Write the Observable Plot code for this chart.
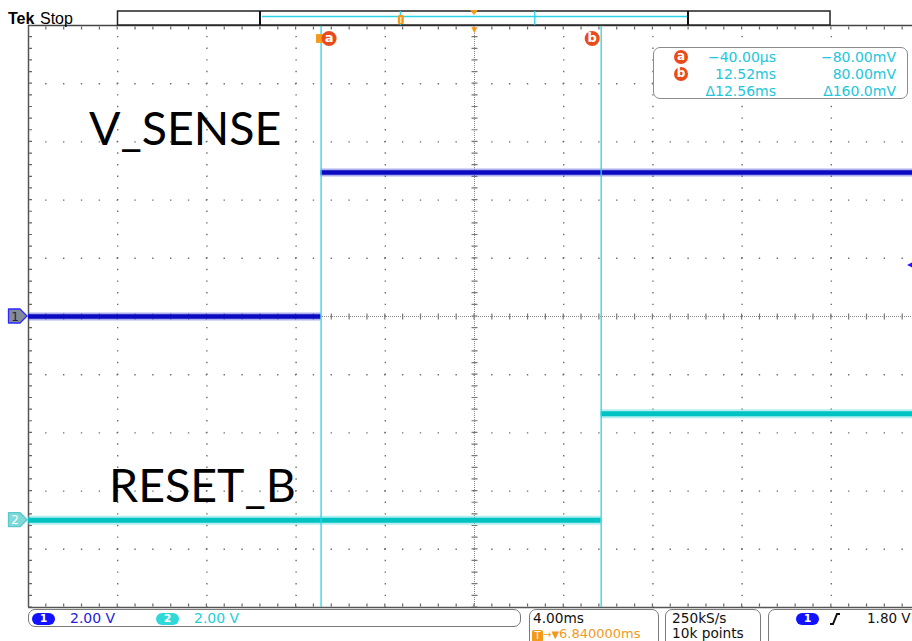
<!DOCTYPE html>
<html>
<head>
<meta charset="utf-8">
<script src="https://cdn.jsdelivr.net/npm/d3@7"></script>
<script src="https://cdn.jsdelivr.net/npm/@observablehq/plot@0.6"></script>
<style>
html, body { margin:0; padding:0; background:#fff; overflow:hidden; }
#wrap { position:relative; width:912px; height:641px; font-family:"DejaVu Sans", sans-serif; }
#header { position:relative; height:24px; z-index:2; }
#header svg { overflow:visible; display:block; }
#chart svg { display:block; }
#footer { position:relative; height:32px; overflow:hidden; }
.box { position:absolute; top:0; box-sizing:border-box; border:1.5px solid #7a7a7a; border-radius:7px; background:#fff; }
.t { position:absolute; white-space:nowrap; font-size:14px; line-height:15px; }
.pill { position:absolute; top:4px; width:23px; height:12px; border-radius:6px; color:#fff; font-size:11px; font-weight:bold; line-height:12px; text-align:center; }
#readout { position:absolute; left:653px; top:47px; width:255px; height:52px; box-sizing:border-box; border:1.5px solid #8c8c8c; border-radius:7px; background:#fff; color:#22c6da; font-size:14px; z-index:3; }
#readout .t { font-size:14px; line-height:16px; }
.cur { position:absolute; width:14px; height:14px; border-radius:7px; background:#e94b1c; color:#fff; font-weight:bold; font-size:12px; line-height:13px; text-align:center; }
</style>
</head>
<body>
<div id="wrap">
  <div id="header"></div>
  <div id="chart"></div>
  <div id="footer"></div>
  <div id="readout"></div>
</div>
<script>
// ---------------- data ----------------
const channelNames = ["V_SENSE", "RESET_B"];
const channelVoltsPerDiv = [2.0, 2.0];
const channelOffsetDiv = [0, -3.5];

// V_SENSE (channel 1) level segments, time in ms, level in V
const vsenseStartMs = [-13.16, -0.04];
const vsenseEndMs   = [-0.04, 26.48];
const vsenseVolts   = [0.0, 4.95];

// RESET_B (channel 2) level segments
const resetStartMs = [-13.16, 12.52];
const resetEndMs   = [12.52, 26.48];
const resetVolts   = [0.0, 3.66];

// cursors
const cursorNames = ["a", "b"];
const cursorTimesMs = [-0.04, 12.52];
const cursorVoltsMv = [-80.0, 80.0];

// acquisition settings
const timebaseMsPerDiv = 4.0;
const triggerDelayMs = 6.84;
const triggerLevelV = 1.80;
const sampleRateLabel = "250kS/s";
const recordLengthLabel = "10k points";

// annotation label anchors (ms, divisions)
const labelTimesMs = [-10.45, -9.55];
const labelDivs = [3.2, -2.93];

// ---------------- chart ----------------
const W = 912, H = 585, mL = 28, mR = 0, mT = 1, mB = 2;
const xMin = triggerDelayMs - 5 * timebaseMsPerDiv;
const xMax = 26.48; // right edge of the screen is cropped
const pxDivX = (W - mL - mR) / (xMax - xMin) * timebaseMsPerDiv;
const pxDivY = (H - mT - mB) / 10;
const minX = pxDivX / 5, minY = pxDivY / 5;

const toDiv = (ch, v) => channelOffsetDiv[ch] + v / channelVoltsPerDiv[ch];
const segs = (ch, s, e, v) => s.map((d, i) => ({ch, x1: s[i], x2: e[i], y: toDiv(ch, v[i])}));
const ch1 = segs(0, vsenseStartMs, vsenseEndMs, vsenseVolts);
const ch2 = segs(1, resetStartMs, resetEndMs, resetVolts);

const gridT = d3.range(-4, 5).filter(k => k !== 0).map(k => triggerDelayMs + k * timebaseMsPerDiv);
const gridY = d3.range(-4, 5).filter(k => k !== 0);

const gridC = "#6e6e6e";
const CYAN_CUR = "#2bd3e6";
const ORANGE = "#f29a1c";
const BADGE = "#e94b1c";

const cursors = cursorNames.map((n, i) => ({n, t: cursorTimesMs[i]}));
const curA = cursors.filter(c => c.n === "a");
const curB = cursors.filter(c => c.n === "b");

const plot = Plot.plot({
  width: W, height: H, marginTop: mT, marginBottom: mB, marginLeft: mL, marginRight: mR,
  style: {background: "transparent", overflow: "visible"},
  x: {domain: [xMin, xMax], axis: null},
  y: {domain: [-5, 5], axis: null},
  marks: [
    // dotted graticule
    Plot.ruleX(gridT, {stroke: gridC, strokeWidth: 1.4, strokeDasharray: `1.4 ${minY - 1.4}`, strokeDashoffset: 0.7}),
    Plot.ruleY(gridY, {stroke: gridC, strokeWidth: 1.4, strokeDasharray: `1.4 ${minX - 1.4}`, strokeDashoffset: 0.7}),
    // center cross
    Plot.ruleX([triggerDelayMs], {stroke: "#8a8a8a", strokeWidth: 1, strokeDasharray: "1 1"}),
    Plot.ruleY([0], {stroke: "#8a8a8a", strokeWidth: 1, strokeDasharray: "1 1"}),
    Plot.ruleX([triggerDelayMs], {stroke: "#777", strokeWidth: 6, strokeDasharray: `1.2 ${minY - 1.2}`, strokeDashoffset: 0.6}),
    Plot.ruleY([0], {stroke: "#777", strokeWidth: 6, strokeDasharray: `1.2 ${minX - 1.2}`, strokeDashoffset: 0.6}),
    // edges
    Plot.ruleX([xMin], {stroke: "#555", strokeWidth: 1.5}),
    Plot.ruleY([5], {stroke: "#444", strokeWidth: 1.5}),
    Plot.ruleY([-5], {stroke: "#555", strokeWidth: 1.5}),
    Plot.ruleX([xMin], {stroke: "#666", strokeWidth: 3, dx: 2, strokeDasharray: `1.2 ${minY - 1.2}`, strokeDashoffset: 0.6}),
    Plot.ruleY([5], {stroke: "#666", strokeWidth: 3, dy: 2.5, strokeDasharray: `1.2 ${minX - 1.2}`, strokeDashoffset: 0.6}),
    Plot.ruleY([-5], {stroke: "#666", strokeWidth: 3, dy: -2.5, strokeDasharray: `1.2 ${minX - 1.2}`, strokeDashoffset: 0.6}),
    // traces
    Plot.ruleY(ch2, {y: "y", x1: "x1", x2: "x2", stroke: "#55dcdc", strokeWidth: 9, strokeOpacity: 0.45}),
    Plot.ruleY(ch2, {y: "y", x1: "x1", x2: "x2", stroke: "#00c2c2", strokeWidth: 5}),
    Plot.ruleY(ch1, {y: "y", x1: "x1", x2: "x2", stroke: "#4b4bd6", strokeWidth: 8, strokeOpacity: 0.45}),
    Plot.ruleY(ch1, {y: "y", x1: "x1", x2: "x2", stroke: "#0a0ac0", strokeWidth: 4.5}),
    // cursors
    Plot.ruleX(cursors, {x: "t", stroke: CYAN_CUR, strokeWidth: 1.3}),
    // trigger position markers
    Plot.text([triggerDelayMs], {x: d => d, frameAnchor: "top", text: () => "▼", fill: ORANGE, fontSize: 10, lineAnchor: "top", dy: 0}),
    Plot.dot([0], {x: d => d, frameAnchor: "top", dy: 13, dx: -1.5, symbol: "square", r: 5, fill: ORANGE}),
    // cursor badges
    Plot.dot(curA, {x: "t", frameAnchor: "top", dy: 13, dx: 8, r: 7.5, fill: BADGE}),
    Plot.dot(curB, {x: "t", frameAnchor: "top", dy: 13, dx: -9, r: 7.5, fill: BADGE}),
    Plot.text(curA, {x: "t", text: "n", frameAnchor: "top", lineAnchor: "middle", dy: 12, dx: 8, fill: "#fff", fontWeight: "bold", fontSize: 13, fontFamily: "DejaVu Sans"}),
    Plot.text(curB, {x: "t", text: "n", frameAnchor: "top", lineAnchor: "middle", dy: 12, dx: -9, fill: "#fff", fontWeight: "bold", fontSize: 13, fontFamily: "DejaVu Sans"}),
    // trigger level arrow
    Plot.text([triggerLevelV], {x: () => xMax, y: v => toDiv(0, v), text: () => "◀", textAnchor: "end", fill: "#1a1aff", fontSize: 8}),
    // signal labels
    Plot.text(channelNames, {x: (d, i) => labelTimesMs[i], y: (d, i) => labelDivs[i], text: d => d, textAnchor: "start", fontFamily: "Lato", fontSize: 46.5, fill: "#000"})
  ]
});
document.getElementById("chart").appendChild(plot);

// channel ground markers in the left margin
const ys = plot.scale("y");
const svg = d3.select(plot);
const markerFill = ["#858b96", "#7fd9d9"];
const markerStroke = ["#2a2aff", "#5cc9c9"];
const markerText = ["#202050", "#ffffff"];
channelOffsetDiv.forEach((off, i) => {
  const yy = ys.apply(off);
  const g = svg.append("g");
  g.append("path").attr("d", `M8.5,${yy - 7}H20L27,${yy}L20,${yy + 7}H8.5Z`)
    .attr("fill", markerFill[i]).attr("stroke", markerStroke[i]).attr("stroke-width", 1.3).attr("stroke-linejoin", "round");
  g.append("text").attr("x", 15).attr("y", yy + 4.5).attr("text-anchor", "middle")
    .attr("font-family", "DejaVu Sans").attr("font-size", 12).attr("fill", markerText[i]).text(String(i + 1));
});

// ---------------- header ----------------
const hdr = d3.select("#header").append("svg").attr("width", 912).attr("height", 24);
hdr.append("text").attr("x", 8).attr("y", 23.5).attr("font-family", "Liberation Sans").attr("font-weight", "bold").attr("font-size", 16).text("Tek");
hdr.append("text").attr("x", 40).attr("y", 23.5).attr("font-family", "Liberation Sans").attr("font-size", 16).text("Stop");
hdr.append("rect").attr("x", 117.5).attr("y", 11).attr("width", 712.5).attr("height", 14).attr("fill", "#fff").attr("stroke", "#222").attr("stroke-width", 1.5);
const recX = d3.scaleLinear([xMin, xMin + 10 * timebaseMsPerDiv], [260, 688]);
hdr.append("line").attr("x1", recX(xMin) + 2).attr("x2", recX(xMin + 10 * timebaseMsPerDiv)).attr("y1", 16.5).attr("y2", 16.5).attr("stroke", CYAN_CUR).attr("stroke-width", 1.5);
[recX(xMin), recX(xMin + 10 * timebaseMsPerDiv)].forEach(x => {
  hdr.append("line").attr("x1", x).attr("x2", x).attr("y1", 11).attr("y2", 25).attr("stroke", "#111").attr("stroke-width", 2);
});
cursorTimesMs.forEach(t => {
  hdr.append("line").attr("x1", recX(t)).attr("x2", recX(t)).attr("y1", 11).attr("y2", 25).attr("stroke", CYAN_CUR).attr("stroke-width", 1.3);
});
hdr.append("rect").attr("x", recX(0) - 3).attr("y", 15).attr("width", 6).attr("height", 9).attr("rx", 1.5).attr("fill", ORANGE);
hdr.append("line").attr("x1", recX(0)).attr("x2", recX(0)).attr("y1", 17).attr("y2", 23).attr("stroke", "#fff").attr("stroke-width", 1);
const cx = recX(triggerDelayMs);
hdr.append("polygon").attr("points", `${cx - 4},10 ${cx + 4},10 ${cx},15`).attr("fill", ORANGE);

// ---------------- cursor readout ----------------
const minus = s => s.replace("-", "\u2212");
const fmtT = t => Math.abs(t) < 1 ? minus((t * 1000).toFixed(2)) + "µs" : minus(t.toFixed(2)) + "ms";
const fmtV = v => minus(v.toFixed(2)) + "mV";
const dT = cursorTimesMs[1] - cursorTimesMs[0];
const dV = cursorVoltsMv[1] - cursorVoltsMv[0];
const rows = [
  {icon: cursorNames[0], t: fmtT(cursorTimesMs[0]), v: fmtV(cursorVoltsMv[0])},
  {icon: cursorNames[1], t: fmtT(cursorTimesMs[1]), v: fmtV(cursorVoltsMv[1])},
  {icon: null, t: "Δ" + dT.toFixed(2) + "ms", v: "Δ" + dV.toPrecision(4) + "mV"}
];
const ro = document.getElementById("readout");
rows.forEach((r, i) => {
  const top = 1 + i * 17;
  if (r.icon) ro.insertAdjacentHTML("beforeend", `<div class="cur" style="left:20px;top:${top + 0.5}px">${r.icon}</div>`);
  ro.insertAdjacentHTML("beforeend", `<div class="t" style="right:131px;top:${top}px">${r.t}</div>`);
  ro.insertAdjacentHTML("beforeend", `<div class="t" style="right:11px;top:${top}px">${r.v}</div>`);
});

// ---------------- footer ----------------
const ft = document.getElementById("footer");
const fmtVolt = v => v.toFixed(2) + " V";
ft.innerHTML = `
  <div class="box" style="left:28px;width:493px;height:18px"></div>
  <div class="pill" style="left:32px;background:#1212ff">1</div>
  <div class="t" style="left:70px;top:2px;color:#2222dd">${fmtVolt(channelVoltsPerDiv[0])}</div>
  <div class="pill" style="left:156px;background:#30d8d8">2</div>
  <div class="t" style="left:194px;top:2px;color:#22cfd6">${fmtVolt(channelVoltsPerDiv[1])}</div>

  <div class="box" style="left:529px;width:130px;height:40px"></div>
  <div class="t" style="left:533px;top:2px;color:#111;font-size:13.7px">${timebaseMsPerDiv.toFixed(2)}ms</div>
  <div class="t" style="left:532px;top:17px;color:${ORANGE};font-size:13px"><span style="display:inline-block;width:11px;height:12px;background:${ORANGE};color:#fff;font-size:10px;line-height:12px;text-align:center;border-radius:2px;vertical-align:-1px">T</span><span style="font-size:10px">→▼</span>${triggerDelayMs.toFixed(6)}ms</div>

  <div class="box" style="left:665px;width:96px;height:40px"></div>
  <div class="t" style="left:672px;top:2px;color:#111;font-size:13.7px">${sampleRateLabel}</div>
  <div class="t" style="left:672px;top:17px;color:#111;font-size:13.7px">${recordLengthLabel}</div>

  <div class="box" style="left:768px;width:160px;height:40px"></div>
  <div class="pill" style="left:796px;background:#1212ff">1</div>
  <svg style="position:absolute;left:829px;top:3px" width="12" height="14"><path d="M1 12 H4 L8 2 H11" fill="none" stroke="#111" stroke-width="2"/></svg>
  <div class="t" style="left:867px;top:2px;color:#111;font-size:13.5px">${fmtVolt(triggerLevelV)}</div>
`;
</script>
</body>
</html>
